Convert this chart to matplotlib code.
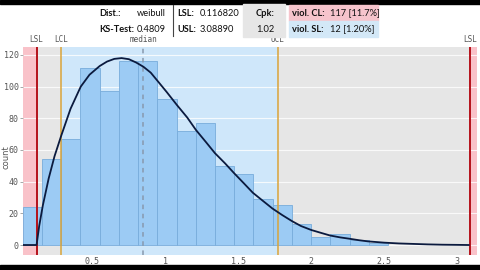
import numpy as np
import matplotlib.pyplot as plt
from matplotlib.patches import Rectangle
from matplotlib.lines import Line2D
import matplotlib.transforms as mtransforms

# histogram of the measured values (weibull fit)
bin_start = 0.0226
bin_width = 0.1318
counts = [24, 54, 67, 112, 97, 116, 116, 92, 72, 77, 50, 45, 29, 25, 13, 5, 7, 3, 1]

# fitted density (scaled to counts)
curve_x = [0.024, 0.117, 0.135, 0.16, 0.2, 0.24, 0.286, 0.35, 0.42, 0.48, 0.55, 0.6,
           0.65, 0.7, 0.75, 0.8, 0.85, 0.9, 0.943, 1.01, 1.08, 1.15, 1.21, 1.28, 1.34,
           1.41, 1.47, 1.54, 1.60, 1.67, 1.735, 1.80, 1.87, 1.93, 2.0, 2.07, 2.13, 2.2,
           2.26, 2.33, 2.39, 2.5, 2.6, 2.7, 2.8, 2.9, 3.0, 3.08]
curve_y = [0, 0, 12, 25, 42, 56, 69, 86, 100, 107.5, 113, 115.8, 117.5, 118, 117.3,
           115.2, 112.5, 108.8, 104, 96.5, 88.3, 80.5, 72.6, 64.8, 58, 51.5, 45.5,
           38.8, 33, 27.8, 23, 19, 15, 12, 9.5, 7.6, 6, 4.8, 4, 3, 2.3, 1.5, 1.0, 0.7,
           0.4, 0.2, 0.1, 0]

# limits
lsl = 0.116820
usl = 3.08890
lcl = 0.286
ucl = 1.772
median = 0.849

# header table
dist_name = 'weibull'
ks_test = '0.4809'
cpk = '1.02'
viol_cl = '117 [11.7%]'
viol_sl = '12 [1.20%]'

xticks = [0.5, 1, 1.5, 2, 2.5, 3]
xtick_labels = ['0.5', '1', '1.5', '2', '2.5', '3']
yticks = [0, 20, 40, 60, 80, 100, 120]

W, H = 480, 270
fig = plt.figure(figsize=(4.8, 2.7), dpi=100, facecolor='white')

def px(x, y):
    return x / W, 1 - y / H

# black bands top / bottom
fig.patches.append(Rectangle((0, 1 - 4 / H), 1, 4 / H, transform=fig.transFigure,
                             color='black', zorder=0))
fig.patches.append(Rectangle((0, 0), 1, 5 / H, transform=fig.transFigure,
                             color='black', zorder=0))

ax = fig.add_axes([23 / W, 15 / H, 454 / W, 208 / H])
x0, x1 = 0.024, 3.137
ax.set_xlim(x0, x1)
ax.set_ylim(-6.3, 125)

pink = '#f9c2c9'
grey = '#e6e6e6'
blue = '#cfe7fa'
ax.axvspan(x0, lsl, color=pink, lw=0, zorder=0.1)
ax.axvspan(lsl, lcl, color=grey, lw=0, zorder=0.1)
ax.axvspan(lcl, ucl, color=blue, lw=0, zorder=0.1)
ax.axvspan(ucl, usl, color=grey, lw=0, zorder=0.1)
ax.axvspan(usl, x1, color=pink, lw=0, zorder=0.1)

ax.set_axisbelow(True)
ax.yaxis.grid(True, color='white', lw=0.8, alpha=0.8)

edges = bin_start + bin_width * np.arange(len(counts))
ax.bar(edges, counts, width=bin_width, align='edge', color='#9ccbf4',
       edgecolor='#78acdb', lw=0.6, zorder=1)

ax.plot(curve_x, curve_y, color='#0b1a3e', lw=1.3, zorder=4)

ax.axvline(lsl, color='#b5121b', lw=1.4, zorder=3)
ax.axvline(usl, color='#b5121b', lw=1.4, zorder=3)
ax.axvline(lcl, color='#d9a43a', lw=1.1, zorder=3)
ax.axvline(ucl, color='#d9a43a', lw=1.1, zorder=3)
ax.axvline(median, color='#8899ae', lw=1.1, ls=(0, (3, 3)), zorder=3)

# labels above the plot
trans = mtransforms.blended_transform_factory(ax.transData, fig.transFigure)
for xv, lab in [(lsl, 'LSL'), (lcl, 'LCL'), (median, 'median'), (ucl, 'UCL'), (usl, 'LSL')]:
    ax.text(xv, 1 - 40 / H, lab, transform=trans, ha='center', va='center',
            family='DejaVu Sans Mono', fontsize=5.5, color='#555555')

for s in ax.spines.values():
    s.set_visible(False)
ax.set_xticks(xticks)
ax.set_xticklabels(xtick_labels)
ax.set_yticks(yticks)
ax.tick_params(axis='x', length=0, pad=1.5, labelsize=6, labelcolor='#555555')
ax.tick_params(axis='y', length=2, width=0.6, color='#999999', pad=1,
               labelsize=6, labelcolor='#555555')
for lab in ax.get_xticklabels() + ax.get_yticklabels():
    lab.set_family('DejaVu Sans Mono')
ax.set_ylabel('count', fontsize=6, color='#555555', va='center')
ax.yaxis.set_label_coords(-0.038, 0.47)

# header table
fs = 6.7
fam = 'Lato'
fig.patches.append(Rectangle(px(243, 37), 42 / W, 33 / H, transform=fig.transFigure,
                             color='#e6e6e6', zorder=0))
fig.patches.append(Rectangle(px(289, 21), 89 / W, 16 / H, transform=fig.transFigure,
                             color='#f6c4cc', zorder=0))
fig.patches.append(Rectangle(px(289, 37), 89 / W, 16 / H, transform=fig.transFigure,
                             color='#d3e8f7', zorder=0))
fig.lines.append(Line2D([172.7 / W, 172.7 / W], [1 - 5 / H, 1 - 36 / H],
                        transform=fig.transFigure, color='#444444', lw=0.8))

r1, r2 = 13, 29
def hdr(x, y, s, bold=False, ha='left'):
    fig.text(*px(x, y), s, ha=ha, va='center', fontsize=fs, family=fam,
             weight='bold' if bold else 'normal', color='#111111')

hdr(99, r1, 'Dist.:', True)
hdr(166, r1, dist_name, ha='right')
hdr(99, r2, 'KS-Test:', True)
hdr(137, r2, ks_test)
hdr(177, r1, 'LSL:', True)
hdr(200, r1, '%.6f' % lsl)
hdr(177, r2, 'USL:', True)
hdr(200, r2, '%.5f' % usl)
hdr(265, r1, 'Cpk:', True, ha='center')
hdr(265, r2, cpk, ha='center')
hdr(292, r1, 'viol. CL:', True)
hdr(330, r1, viol_cl)
hdr(292, r2, 'viol. SL:', True)
hdr(330, r2, viol_sl)

fig.savefig('out.png', dpi=100, facecolor='white')
